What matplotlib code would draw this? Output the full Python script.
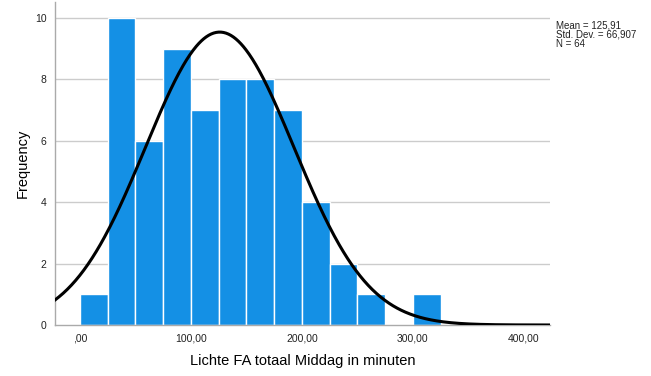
import numpy as np
import matplotlib.pyplot as plt

plt.rcParams['font.family'] = ['Liberation Sans', 'DejaVu Sans']

bin_edges = [0, 25, 50, 75, 100, 125, 150, 175, 200, 225, 250, 275, 300, 325]
counts = [1, 10, 6, 9, 7, 8, 8, 7, 4, 2, 1, 0, 1]
mean = 125.91
std = 66.907
n = 64
x_ticks = [0, 100, 200, 300, 400]
x_tick_labels = [",00", "100,00", "200,00", "300,00", "400,00"]
y_ticks = [0, 2, 4, 6, 8, 10]

fig = plt.figure(figsize=(6.51, 3.76), dpi=100)
ax = fig.add_axes([55 / 651, 51 / 376, 495 / 651, 323 / 376])

ax.set_xlim(-22.5, 423.5)
ax.set_ylim(0, 10.52)

for yt in y_ticks[1:]:
    ax.axhline(yt, color='#cccccc', lw=1.0, zorder=0)

widths = np.diff(bin_edges)
ax.bar(bin_edges[:-1], counts, width=widths, align='edge',
       color='#1490e5', edgecolor='white', linewidth=1.0, zorder=2)

# Normal curve scaled to the histogram counts
xs = np.linspace(-22.5, 423.5, 600)
bw = widths[0]
curve = n * bw / (std * np.sqrt(2 * np.pi)) * np.exp(-0.5 * ((xs - mean) / std) ** 2)
ax.plot(xs, curve, color='black', lw=2.2, zorder=3, clip_on=True)

for s in ['top', 'right']:
    ax.spines[s].set_visible(False)
for s in ['left', 'bottom']:
    ax.spines[s].set_color('#aaaaaa')
    ax.spines[s].set_linewidth(1.0)

ax.set_xticks(x_ticks)
ax.set_xticklabels(x_tick_labels)
ax.set_yticks(y_ticks)
ax.tick_params(axis='both', length=0, labelsize=7.5, colors='#222222', pad=6)

ax.set_ylabel("Frequency", fontsize=10.5, color='black', labelpad=4)
ax.set_xlabel("Lichte FA totaal Middag in minuten", fontsize=10.5, color='black', labelpad=8)

fig.text(556 / 651, 1 - 20 / 376, "Mean = 125,91\nStd. Dev. = 66,907\nN = 64",
         fontsize=7, color='#222222', va='top', ha='left', linespacing=0.95)

fig.savefig("out.png", dpi=100)
